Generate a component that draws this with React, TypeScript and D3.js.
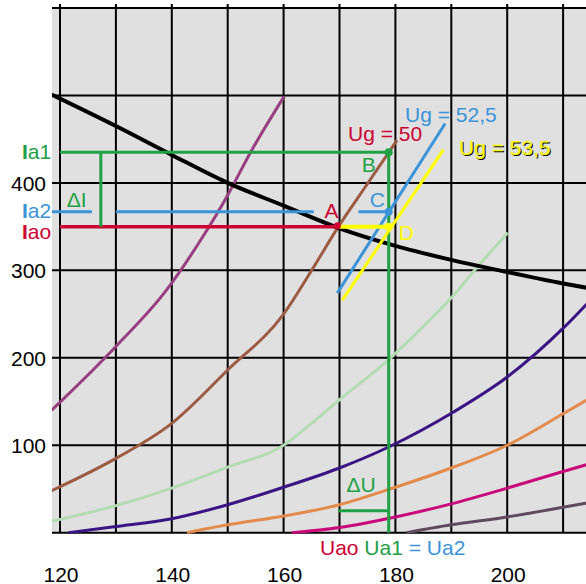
import React from "react";
import * as d3 from "d3";

// ---- data ----
const gridX = [120, 130, 140, 150, 160, 170, 180, 190, 200, 210];
const gridY = [0, 100, 200, 300, 400, 500, 600];
const xTicks = [120, 140, 160, 180, 200];
const yTicks = [100, 200, 300, 400];

const purpleX = [118.5, 130, 139, 145, 150, 154, 160.1];
const purpleY = [140, 213, 277, 333, 386, 434, 499];
const brownX = [118.5, 130, 140, 150, 160, 165.4, 169.6, 175, 180.3];
const brownY = [48, 85, 125, 186, 250, 304, 348, 399, 449];
const lgreenX = [118.5, 130, 140, 150, 160, 165, 170, 178.8, 185, 190.2, 194.7, 200.1];
const lgreenY = [13, 31, 51, 75, 100, 125, 152, 198, 236, 270, 304, 343];
const indigoX = [121.5, 130, 140, 150, 160, 170, 178.8, 190.4, 200, 210.2, 214.3];
const indigoY = [0, 7, 16, 32, 52, 74, 98, 138, 178, 235, 262];
const orangeX = [142.7, 150, 160, 170, 180, 190, 200, 210, 214.3];
const orangeY = [0, 9, 19, 32, 52, 74, 100, 136, 152];
const magentaX = [161.5, 170, 180, 190, 200, 210, 214.3];
const magentaY = [0, 6, 18, 33, 51, 70, 78];
const greyX = [182, 190, 200, 210, 214.3];
const greyY = [0, 9, 18, 29, 34];
const loadX = [118.5, 130, 140, 150, 160, 170, 180, 190, 200, 210, 214.3];
const loadY = [501, 465, 432, 400, 374, 348, 328, 312, 298, 285, 280];
const ug525X = [169.6, 188.9];
const ug525Y = [274, 468];
const ug535X = [170.5, 188.6];
const ug535Y = [266, 438];

const Iao = 350;
const Ia2 = 367;
const Ia1 = 435;
const Uao = 169.8;
const Ua1 = 178.8;
const dIx = 127.3;
const dUy = 25;
const ia2Segments = [[118.57, 125.7], [130, 165.4], [173.4, Ua1]];

const C = {
  bg: "#e0e0e0",
  purple: "#983f80",
  brown: "#9c5b45",
  lgreen: "#b5dbb5",
  indigo: "#3a1685",
  orange: "#e38b4c",
  magenta: "#c9087a",
  grey: "#5f4b5f",
  green: "#22a046",
  blue: "#3b93d8",
  red: "#cc0033",
  yellow: "#ffff00",
};

const W = 586;
const H = 584;
const x = d3.scaleLinear().domain([120, 210]).range([60, 563.1]);
const y = d3.scaleLinear().domain([0, 600]).range([532.7, 8]);
const left = 52;

const line = d3
  .line<[number, number]>()
  .x((d) => x(d[0]))
  .y((d) => y(d[1]))
  .curve(d3.curveMonotoneX);
const straight = d3
  .line<[number, number]>()
  .x((d) => x(d[0]))
  .y((d) => y(d[1]));

const zip = (a: number[], b: number[]) => a.map((v, i) => [v, b[i]] as [number, number]);

const curves = [
  { xs: purpleX, ys: purpleY, c: C.purple },
  { xs: brownX, ys: brownY, c: C.brown },
  { xs: lgreenX, ys: lgreenY, c: C.lgreen },
  { xs: indigoX, ys: indigoY, c: C.indigo },
  { xs: orangeX, ys: orangeY, c: C.orange },
  { xs: magentaX, ys: magentaY, c: C.magenta },
  { xs: greyX, ys: greyY, c: C.grey },
];

const font = "'Liberation Sans', Arial, sans-serif";

export default function App() {
  return (
    <svg
      width={W}
      height={H}
      style={{ position: "absolute", left: 0, top: 0, background: "#fff" }}
      fontFamily={font}
      fontSize={21}
    >
      <defs>
        <clipPath id="plot">
          <rect x={left} y={0} width={W - left} height={y(0) + 1} />
        </clipPath>
      </defs>
      <rect x={left} y={y(600)} width={W - left} height={y(0) - y(600)} fill={C.bg} />
      {gridX.map((g) => (
        <line key={"gx" + g} x1={x(g)} x2={x(g)} y1={y(600) - 4} y2={y(0)} stroke="#000" strokeWidth={2} />
      ))}
      {gridY.map((g) => (
        <line key={"gy" + g} x1={left} x2={W} y1={y(g)} y2={y(g)} stroke="#000" strokeWidth={2} />
      ))}

      <g clipPath="url(#plot)">
        {curves.map((cv, i) => (
          <path key={i} d={line(zip(cv.xs, cv.ys)) || ""} fill="none" stroke={cv.c} strokeWidth={3} />
        ))}
        <path d={line(zip(loadX, loadY)) || ""} fill="none" stroke="#000" strokeWidth={4} />

        {/* construction lines */}
        <line x1={x(120)} x2={x(Uao)} y1={y(Iao)} y2={y(Iao)} stroke={C.red} strokeWidth={3.5} />
        {ia2Segments.map((s, i) => (
          <line key={"ia2" + i} x1={Math.max(x(s[0]), left)} x2={x(s[1])} y1={y(Ia2)} y2={y(Ia2)} stroke={C.blue} strokeWidth={3} />
        ))}
        <line x1={x(120)} x2={x(Ua1)} y1={y(Ia1)} y2={y(Ia1)} stroke={C.green} strokeWidth={3} />
        <line x1={x(dIx)} x2={x(dIx)} y1={y(Ia1)} y2={y(Iao)} stroke={C.green} strokeWidth={3} />
        <line x1={x(Ua1)} x2={x(Ua1)} y1={y(Ia1)} y2={y(0)} stroke={C.green} strokeWidth={3} />
        <line x1={x(Uao)} x2={x(Ua1)} y1={y(dUy)} y2={y(dUy)} stroke={C.green} strokeWidth={3} />

        <path d={straight(zip(ug525X, ug525Y)) || ""} stroke={C.blue} strokeWidth={3} fill="none" />
        <path d={straight(zip(ug535X, ug535Y)) || ""} stroke={C.yellow} strokeWidth={3} fill="none" />
        <line x1={x(Uao)} x2={x(Ua1)} y1={y(Iao)} y2={y(Iao)} stroke={C.yellow} strokeWidth={4} />

        <circle cx={x(Uao) - 1} cy={y(Iao) - 1} r={3.5} fill={C.red} />
        <circle cx={x(Ua1)} cy={y(Ia1)} r={4} fill={C.green} />
        <circle cx={x(Ua1)} cy={y(Ia2)} r={4} fill={C.blue} />
        <circle cx={x(Ua1)} cy={y(Iao)} r={4} fill={C.yellow} />
      </g>

      {/* axis labels */}
      {yTicks.map((t) => (
        <text key={"yt" + t} x={46} y={y(t) + 8} textAnchor="end" fill="#000">
          {t}
        </text>
      ))}
      {xTicks.map((t) => (
        <text key={"xt" + t} x={x(t) + 1} y={581.5} textAnchor="middle" fill="#000">
          {t}
        </text>
      ))}

      {/* left labels */}
      <text x={22} y={y(Ia1) + 7} fill={C.green}>
        <tspan fontWeight="bold">I</tspan>a1
      </text>
      <text x={22} y={y(Ia2) + 6} fill={C.blue}>
        <tspan fontWeight="bold">I</tspan>a2
      </text>
      <text x={22} y={y(Iao) + 12.5} fill={C.red}>
        <tspan fontWeight="bold">I</tspan>ao
      </text>
      <text x={x(dIx) - 34} y={y(Ia2) - 4.5} fill={C.green}>ΔI</text>

      {/* point labels */}
      <text x={x(Uao) - 14} y={y(Iao) - 8.5} fill={C.red}>A</text>
      <text x={x(Ua1) - 27} y={y(Ia1) + 20} fill={C.green}>B</text>
      <text x={x(Ua1) - 19} y={y(Ia2) - 4.5} fill={C.blue}>C</text>
      <text x={x(Ua1) + 10} y={y(Iao) + 13.5} fill={C.yellow}>D</text>
      <text x={x(Uao) + 8} y={y(dUy) - 19} fill={C.green}>ΔU</text>

      {/* grid voltage labels */}
      <text x={348} y={y(449) + 1} fill={C.red}>Ug = 50</text>
      <text x={405} y={y(468) - 1} fill={C.blue}>Ug = 52,5</text>
      <text x={460} y={156} fill="#000">Ug = 53,5</text>
      <text x={459} y={155} fill={C.yellow}>Ug = 53,5</text>

      {/* bottom label */}
      <text x={320} y={555}>
        <tspan fill={C.red}>Uao </tspan>
        <tspan fill={C.green}>Ua1</tspan>
        <tspan fill={C.blue}> = Ua2</tspan>
      </text>
    </svg>
  );
}
